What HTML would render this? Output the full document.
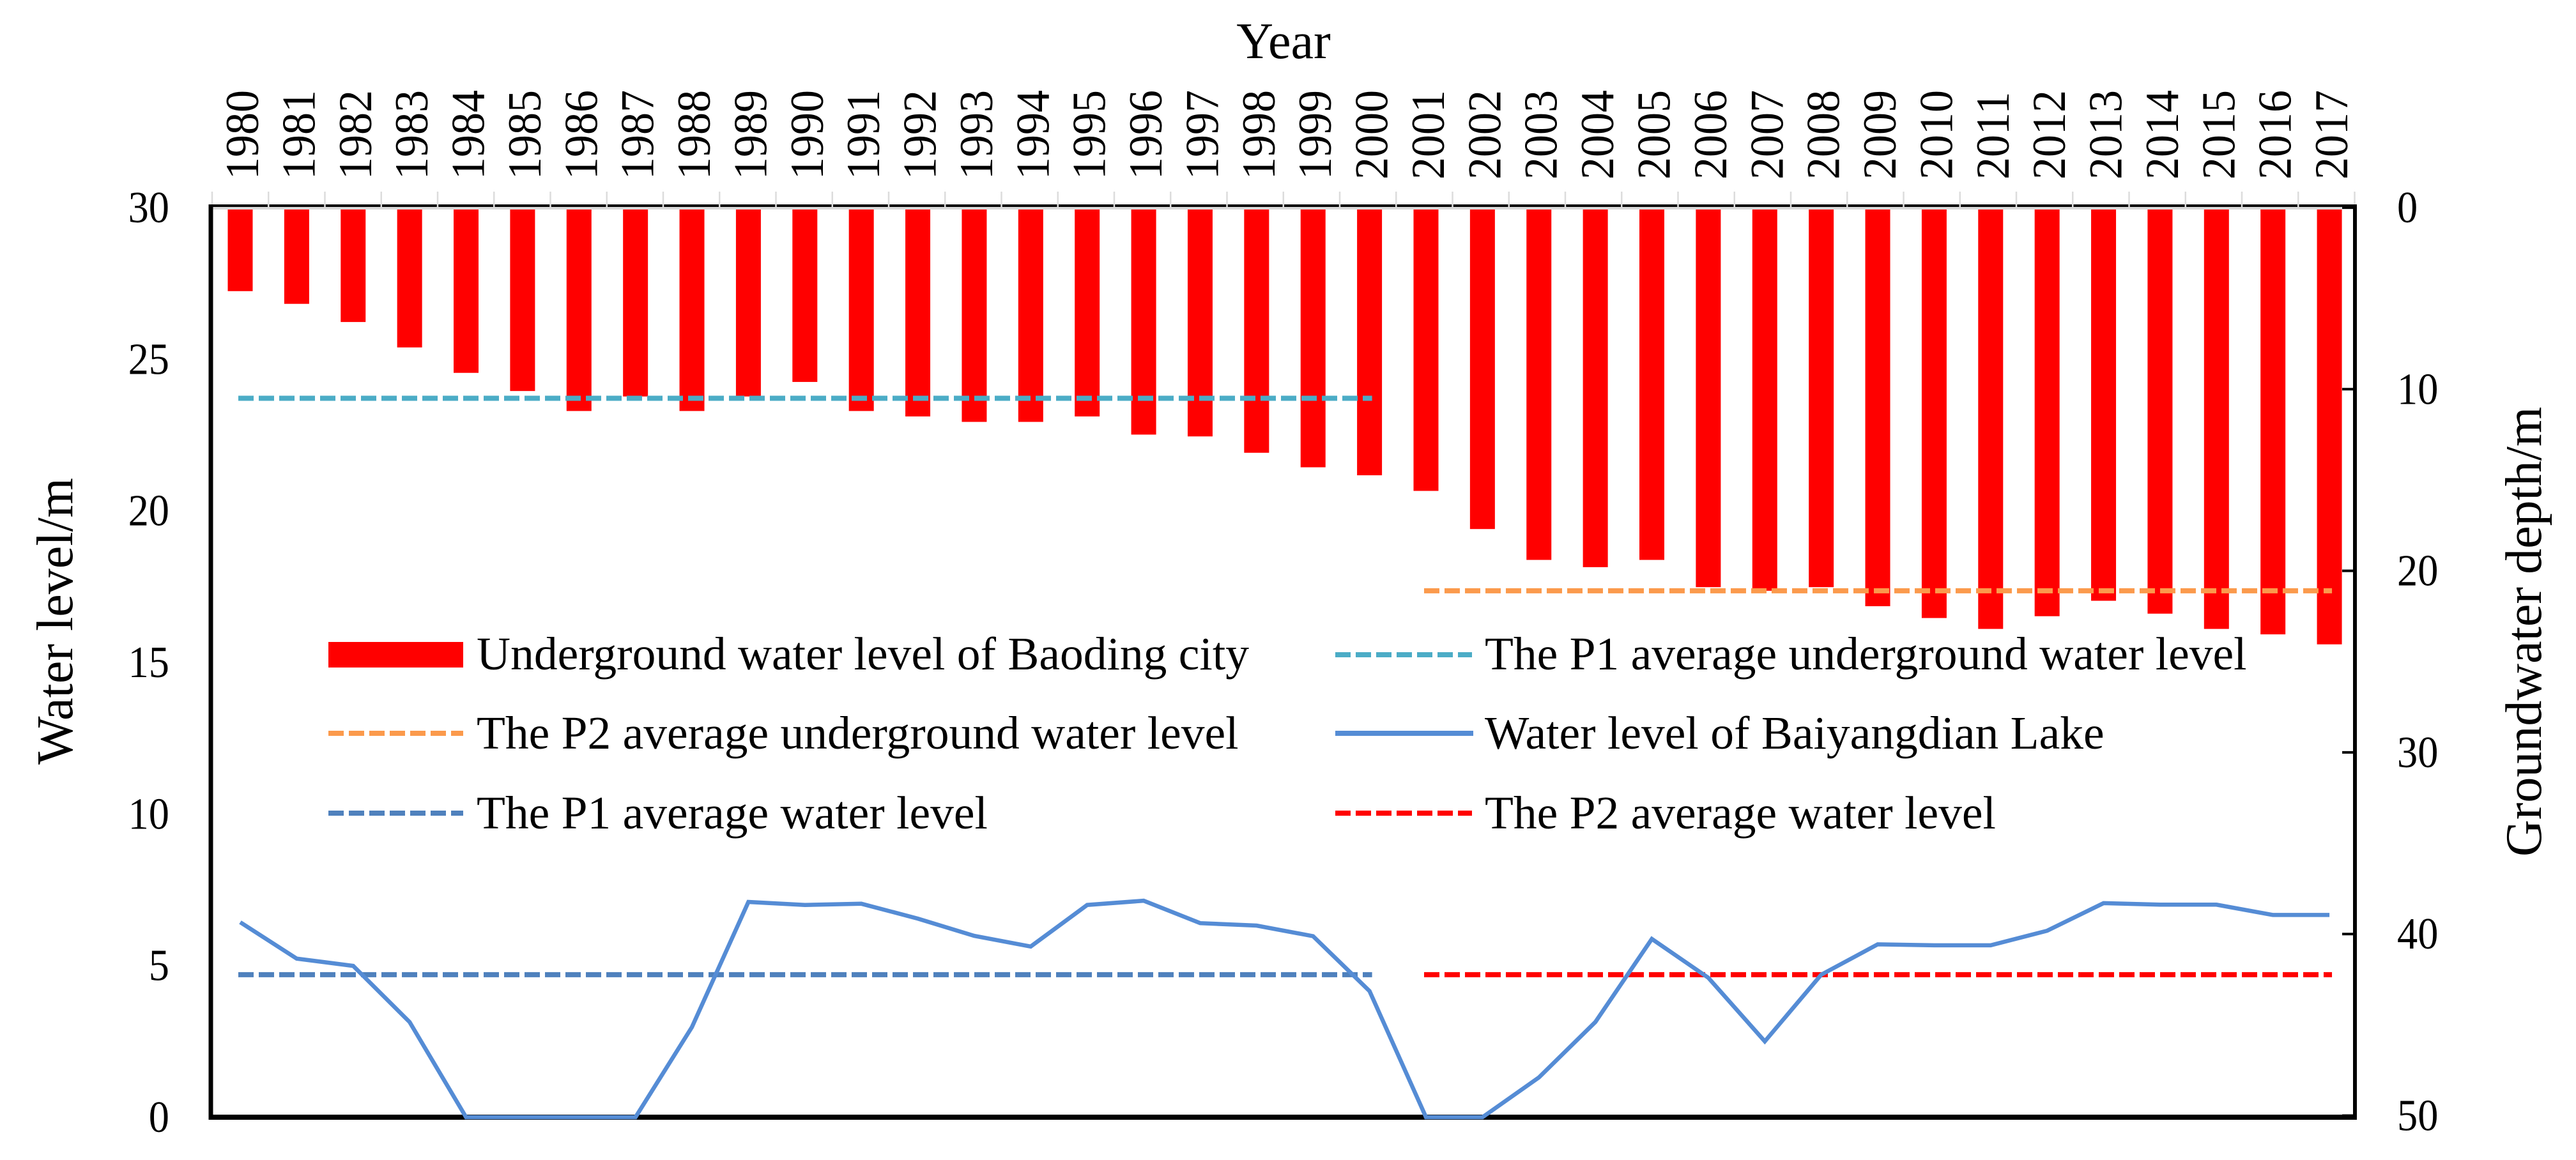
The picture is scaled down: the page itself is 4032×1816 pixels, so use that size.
<!DOCTYPE html>
<html lang="en">
<head>
<meta charset="utf-8">
<title>Water level of Baiyangdian Lake and groundwater depth of Baoding city</title>
<style>
html,body{margin:0;padding:0;background:#fff;}
svg{display:block;}
text{font-family:"Liberation Serif","Times New Roman",serif;fill:#000;}
</style>
</head>
<body>
<svg id="chart" xmlns="http://www.w3.org/2000/svg" width="4032" height="1816" viewBox="0 0 4032 1816">
  <rect x="0" y="0" width="4032" height="1816" fill="#ffffff"/>
  <g id="bars"></g>
  <g id="axes"></g>
  <g id="series"></g>
  <g id="labels"></g>

  <text x="2009" y="91" font-size="80" text-anchor="middle">Year</text>
  <text transform="translate(113,1197) rotate(-90)" font-size="80">Water level/m</text>
  <text transform="translate(3977,1341) rotate(-90)" font-size="80">Groundwater depth/m</text>

  <g>
    <g>
      <rect x="514" y="1005" width="211" height="40" fill="#ff0000"/>
      <text x="746" y="1048" font-size="73.5">Underground water level of Baoding city</text>
    </g>
    <g>
      <line x1="2090" x2="2304" y1="1025" y2="1025" stroke="#4bacc6" stroke-width="8" stroke-dasharray="24 8"/>
      <text x="2324" y="1048" font-size="73.5">The P1 average underground water level</text>
    </g>
    <g>
      <line x1="514" x2="725" y1="1148" y2="1148" stroke="#fb9a4c" stroke-width="8" stroke-dasharray="24 8"/>
      <text x="746" y="1172" font-size="73.5">The P2 average underground water level</text>
    </g>
    <g>
      <line x1="2090" x2="2306" y1="1148" y2="1148" stroke="#558cd5" stroke-width="8"/>
      <text x="2324" y="1172" font-size="73.5">Water level of Baiyangdian Lake</text>
    </g>
    <g>
      <line x1="514" x2="725" y1="1273" y2="1273" stroke="#4f81bd" stroke-width="8" stroke-dasharray="24 8"/>
      <text x="746" y="1297" font-size="73.5">The P1 average water level</text>
    </g>
    <g>
      <line x1="2090" x2="2304" y1="1273" y2="1273" stroke="#ff0000" stroke-width="8" stroke-dasharray="24 8"/>
      <text x="2324" y="1297" font-size="73.5">The P2 average water level</text>
    </g>
  </g>
</svg>

<script>
var years = [1980,1981,1982,1983,1984,1985,1986,1987,1988,1989,1990,1991,1992,1993,1994,1995,1996,1997,1998,1999,2000,2001,2002,2003,2004,2005,2006,2007,2008,2009,2010,2011,2012,2013,2014,2015,2016,2017];
var groundwaterDepth = [4.6,5.3,6.3,7.7,9.1,10.1,11.2,10.4,11.2,10.4,9.6,11.2,11.5,11.8,11.8,11.5,12.5,12.6,13.5,14.3,14.74,15.6,17.7,19.4,19.8,19.4,20.9,21.1,20.9,21.95,22.6,23.2,22.5,21.65,22.36,23.2,23.5,24.05];
var lakeLevel = [6.43,5.23,4.99,3.14,0,0,0,0,2.97,7.1,7.0,7.04,6.55,5.98,5.63,7.0,7.14,6.4,6.32,5.97,4.16,0,0,1.31,3.14,5.88,4.6,2.5,4.7,5.7,5.67,5.67,6.15,7.06,7.01,7.01,6.67,6.67];
var p1UndergroundAverage = 10.5;
var p2UndergroundAverage = 21.1;
var p1WaterAverage = 4.7;
var p2WaterAverage = 4.7;
var p1Years = [1980,2000];
var p2Years = [2001,2017];
var leftTicks = [0,5,10,15,20,25,30];
var rightTicks = [0,10,20,30,40,50];

var NS = 'http://www.w3.org/2000/svg';
var leftX = 330, rightX = 3686, bottomY = 1749, topY = 325;
function xCenter(i){ return 376 + 88.38 * i; }
function xYear(y){ return xCenter(years.indexOf(y)); }
function yLevel(v){ return bottomY - v * (bottomY - topY) / 30; }
function yDepth(d){ return topY + d * 28.43; }
function mk(tag, attrs, parent){
  var el = document.createElementNS(NS, tag);
  for (var k in attrs) el.setAttribute(k, attrs[k]);
  parent.appendChild(el);
  return el;
}
var gBars = document.getElementById('bars');
var gAxes = document.getElementById('axes');
var gSeries = document.getElementById('series');
var gLabels = document.getElementById('labels');

years.forEach(function(year, i){
  var b = mk('rect', {x: xCenter(i) - 19.5, y: topY, width: 39, height: yDepth(groundwaterDepth[i]) - topY, fill: '#ff0000'}, gBars);
  
  
});

var topLine = mk('line', {x1: leftX - 3, x2: rightX + 3, y1: 322, y2: 322, stroke: '#000', 'stroke-width': 4}, gAxes);


var grayLine = mk('line', {x1: leftX + 2, x2: rightX - 3, y1: 326, y2: 326, stroke: '#d9d9d9', 'stroke-width': 4}, gAxes);


for (var t = 0; t <= years.length; t++) {
  var tickX = 332 + 88.25 * t;
  var xTick = mk('line', {x1: tickX, x2: tickX, y1: 300, y2: 324, stroke: '#dcdcdc', 'stroke-width': 2.5}, gAxes);
  
  
}
var leftAxis = mk('line', {x1: leftX, x2: leftX, y1: 320, y2: bottomY + 4, stroke: '#000', 'stroke-width': 7}, gAxes);


var rightAxis = mk('line', {x1: rightX, x2: rightX, y1: 320, y2: bottomY + 4, stroke: '#000', 'stroke-width': 6}, gAxes);


var bottomAxis = mk('line', {x1: leftX - 3, x2: rightX + 3, y1: bottomY, y2: bottomY, stroke: '#000', 'stroke-width': 8}, gAxes);


rightTicks.forEach(function(d){
  var rt = mk('line', {x1: rightX - 20, x2: rightX, y1: yDepth(d), y2: yDepth(d), stroke: '#000', 'stroke-width': 4}, gAxes);
  
  
});

function dashed(name, value, yFn, span, color){
  var l = mk('line', {x1: xYear(span[0]) - 3, x2: xYear(span[1]) + 4, y1: yFn(value), y2: yFn(value), stroke: color, 'stroke-width': 8, 'stroke-dasharray': '24 8'}, gSeries);
  
  
}
dashed('p1-underground-average-line', p1UndergroundAverage, yDepth, p1Years, '#4bacc6');
dashed('p2-underground-average-line', p2UndergroundAverage, yDepth, p2Years, '#fb9a4c');
dashed('p1-water-average-line', p1WaterAverage, yLevel, p1Years, '#4f81bd');
dashed('p2-water-average-line', p2WaterAverage, yLevel, p2Years, '#ff0000');

var pts = lakeLevel.map(function(v, i){ return xCenter(i).toFixed(1) + ',' + yLevel(v).toFixed(1); }).join(' ');
var lake = mk('polyline', {points: pts, fill: 'none', stroke: '#558cd5', 'stroke-width': 6.5, 'stroke-linejoin': 'miter'}, gSeries);



years.forEach(function(year, i){
  var tx = mk('text', {transform: 'translate(' + (xCenter(i) + 28).toFixed(1) + ',281) rotate(-90) scale(1,1.06)', 'font-size': 70}, gLabels);
  tx.textContent = year;
  
  
});
leftTicks.forEach(function(v){
  var tl = mk('text', {transform: 'translate(265,' + (yLevel(v) + 23).toFixed(1) + ') scale(0.92,1)', 'font-size': 70, 'text-anchor': 'end'}, gLabels);
  tl.textContent = v;
  
  
});
rightTicks.forEach(function(d){
  var tr = mk('text', {transform: 'translate(3752,' + (yDepth(d) + 23).toFixed(1) + ') scale(0.92,1)', 'font-size': 70}, gLabels);
  tr.textContent = d;
  
  
});
</script>
</body>
</html>
